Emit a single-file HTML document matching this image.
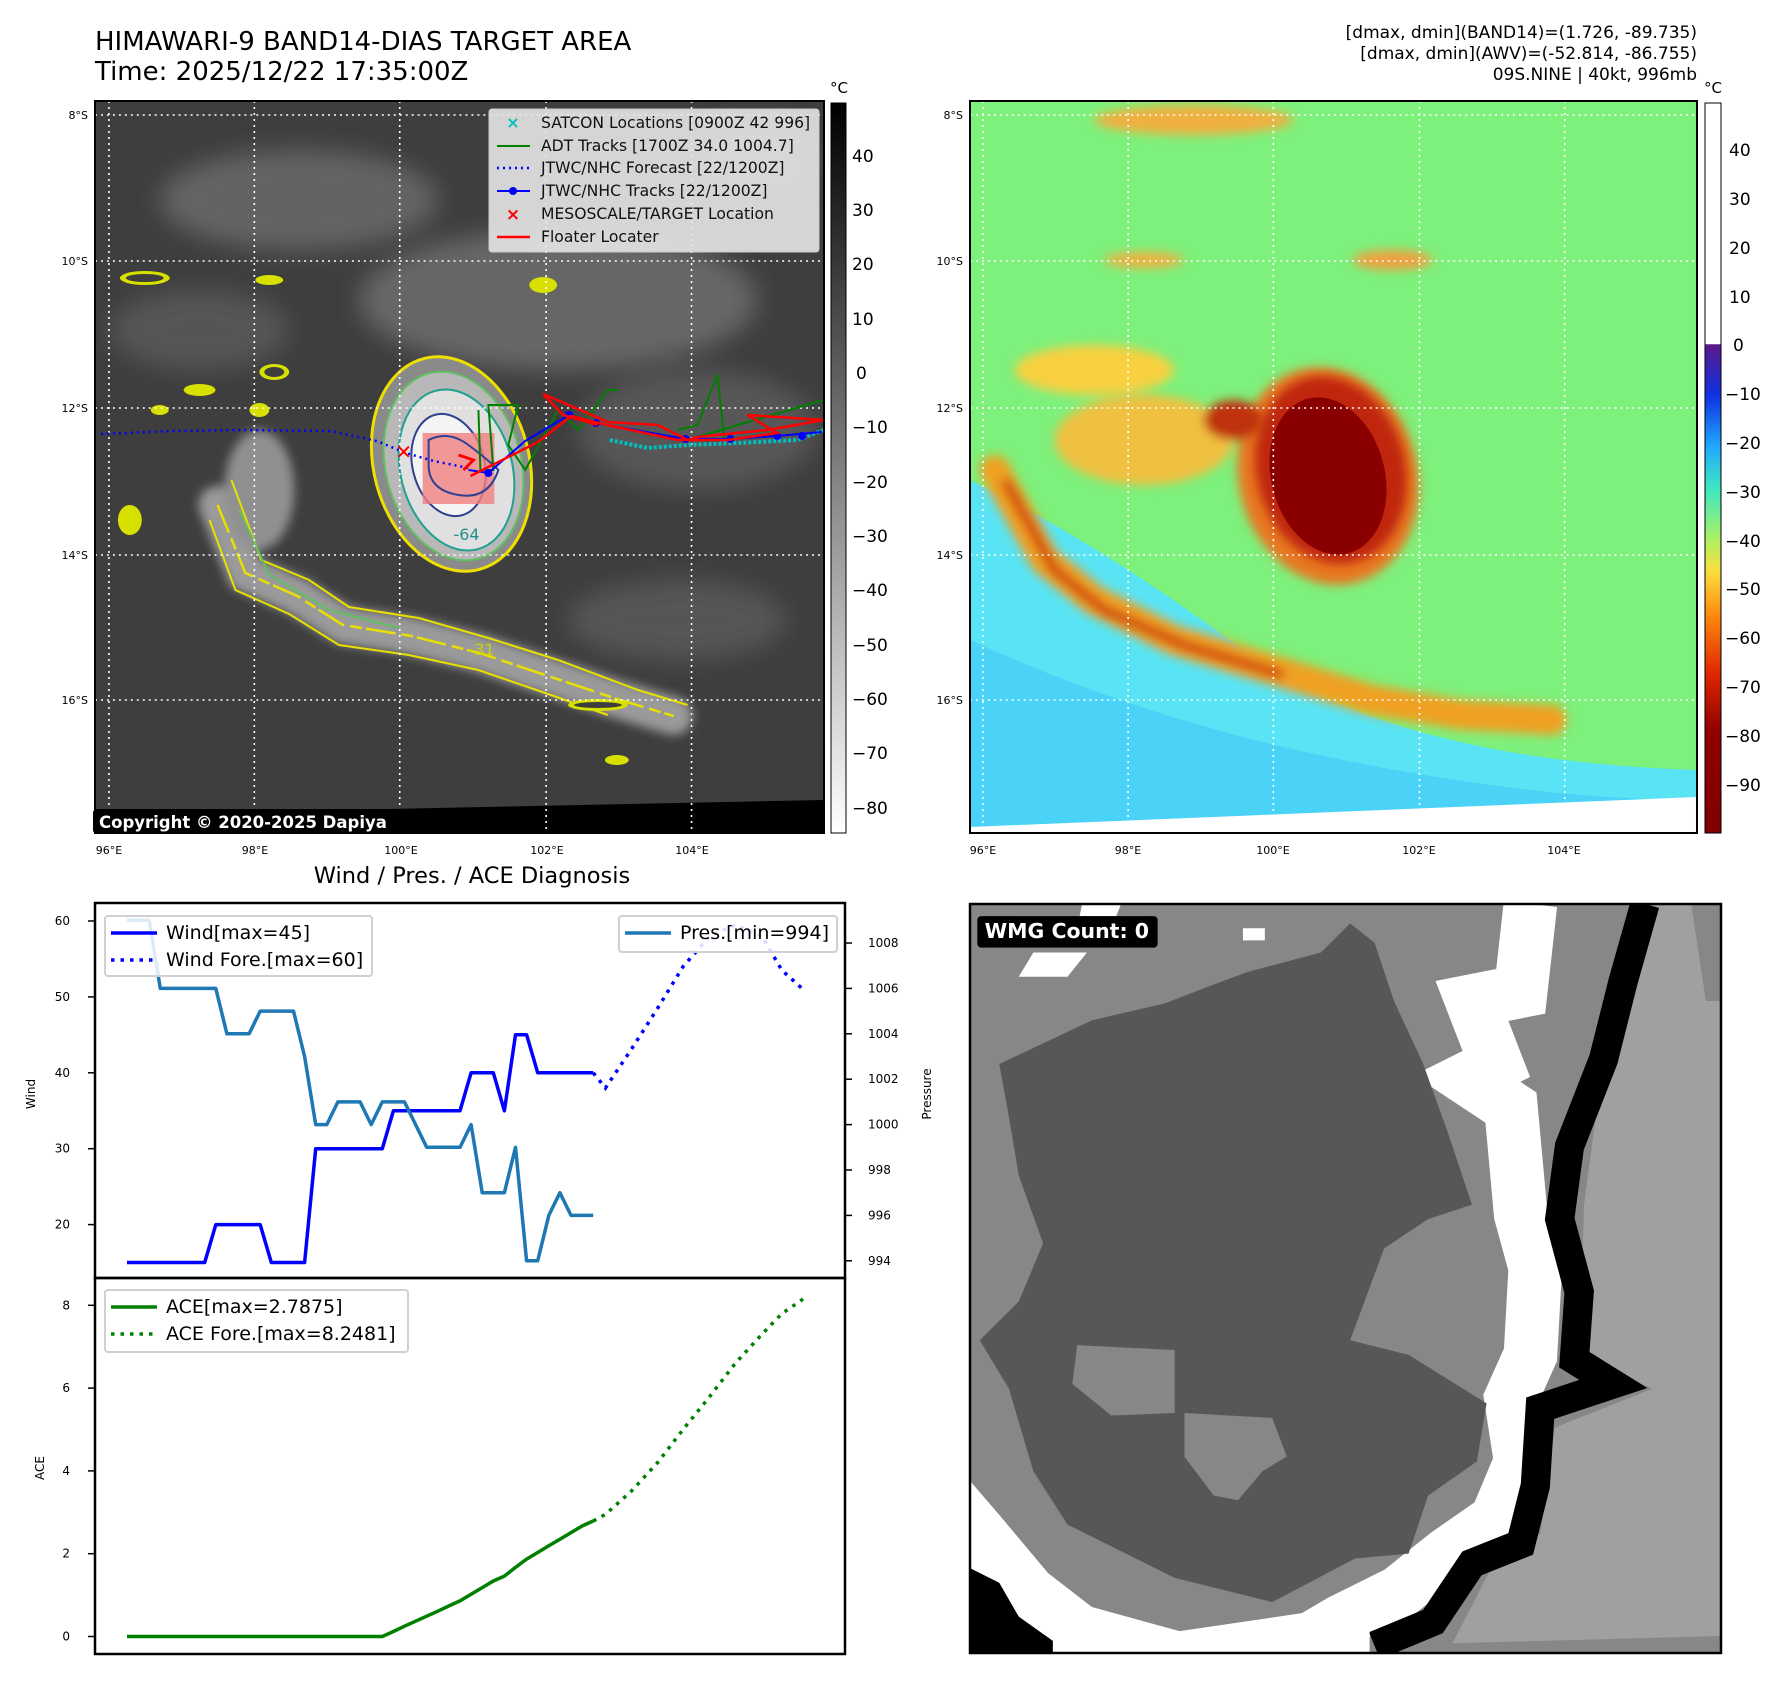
<!DOCTYPE html>
<html><head><meta charset="utf-8"><style>
html,body{margin:0;padding:0;background:#fff;}
svg{display:block;font-family:"DejaVu Sans","Liberation Sans",sans-serif;}
</style></head><body>
<svg id="root" width="1788" height="1690" viewBox="0 0 1788 1690" xmlns="http://www.w3.org/2000/svg">
<defs>
<clipPath id="cl"><rect x="95" y="101" width="732" height="732"/></clipPath>
<clipPath id="cr"><rect x="975" y="101" width="731" height="732"/></clipPath>
<filter id="bl" x="-50%" y="-50%" width="200%" height="200%"><feGaussianBlur stdDeviation="12"/></filter>
<filter id="bl2" x="-50%" y="-50%" width="200%" height="200%"><feGaussianBlur stdDeviation="5"/></filter>
<linearGradient id="cbl" x1="0" y1="0" x2="0" y2="1"><stop offset="0" stop-color="#000"/><stop offset="1" stop-color="#fff"/></linearGradient>
<linearGradient id="cbr" x1="0" y1="0" x2="0" y2="1">
<stop offset="0" stop-color="#fff"/><stop offset="0.33" stop-color="#fff"/><stop offset="0.331" stop-color="#5a1a8a"/>
<stop offset="0.4" stop-color="#1030e0"/><stop offset="0.47" stop-color="#20a8ff"/><stop offset="0.53" stop-color="#40e8c0"/>
<stop offset="0.6" stop-color="#b0f060"/><stop offset="0.64" stop-color="#f8e040"/><stop offset="0.7" stop-color="#ff8c10"/>
<stop offset="0.78" stop-color="#e02800"/><stop offset="0.86" stop-color="#900000"/><stop offset="1" stop-color="#800000"/></linearGradient>
</defs>

<text x="95" y="50" font-size="26">HIMAWARI-9 BAND14-DIAS TARGET AREA</text>
<text x="95" y="80" font-size="26">Time: 2025/12/22 17:35:00Z</text>
<g font-size="17" text-anchor="end">
<text x="1697" y="38">[dmax, dmin](BAND14)=(1.726, -89.735)</text>
<text x="1697" y="59">[dmax, dmin](AWV)=(-52.814, -86.755)</text>
<text x="1697" y="80">09S.NINE | 40kt, 996mb</text>
</g>

<!-- LEFT MAP -->
<g transform="translate(95,0) scale(0.9959,1) translate(-95,0)">
<g clip-path="url(#cl)">
<rect x="95" y="101" width="732" height="732" fill="#3e3e3e"/>
<g filter="url(#bl)" opacity="0.85">
<ellipse cx="300" cy="200" rx="140" ry="50" fill="#6a6a6a"/>
<ellipse cx="560" cy="300" rx="200" ry="70" fill="#6e6e6e"/>
<ellipse cx="200" cy="330" rx="90" ry="40" fill="#5a5a5a"/>
<ellipse cx="700" cy="430" rx="120" ry="60" fill="#5c5c5c"/>
<ellipse cx="680" cy="620" rx="110" ry="40" fill="#5a5a5a"/>
<ellipse cx="760" cy="160" rx="60" ry="40" fill="#5a5a5a"/>
</g>
<g filter="url(#bl2)">
<polyline points="218,505 246,573 298,596 344,625 413,636 481,653 550,676 619,699 676,716" fill="none" stroke="#9a9a9a" stroke-width="38" stroke-linecap="round"/>
<ellipse cx="260" cy="490" rx="35" ry="60" fill="#909090"/>
</g>
<polyline points="218,505 246,573 298,596 344,625 413,636 481,653 550,676 619,699 676,716" fill="none" stroke="#e8e000" stroke-width="2.5" stroke-dasharray="30 6 12 4"/>
<polyline points="232,480 262,560 310,580 350,607 420,618 490,638 560,660 640,690 690,705" fill="none" stroke="#e8e000" stroke-width="2"/>
<polyline points="210,520 236,590 290,614 340,645 410,655 480,670 550,694 610,715" fill="none" stroke="#e8e000" stroke-width="2"/>
<polyline points="240,510 270,575 330,610 400,628" fill="none" stroke="#5fc060" stroke-width="2"/>
<ellipse cx="453" cy="464" rx="78" ry="109" fill="#8a8a8a" stroke="#f0e000" stroke-width="3" transform="rotate(-15 453 464)"/>
<ellipse cx="455" cy="466" rx="68" ry="96" fill="#b8b8b8" stroke="#60c060" stroke-width="2" transform="rotate(-15 455 466)"/>
<ellipse cx="458" cy="470" rx="56" ry="82" fill="#e0e0e0" stroke="#20a090" stroke-width="2" transform="rotate(-15 458 470)"/>
<ellipse cx="450" cy="465" rx="36" ry="52" fill="#f4f4f4" stroke="#304090" stroke-width="2" transform="rotate(-15 450 465)"/>
<rect x="424" y="433" width="72" height="71" fill="#f08080" opacity="0.8"/>
<path d="M430 440 q20 -10 40 5 t30 25 q-10 30 -40 25 t-30 -30 z" fill="none" stroke="#304090" stroke-width="2"/>
<g fill="#d8e000">
<ellipse cx="145" cy="278" rx="25" ry="7"/><ellipse cx="270" cy="280" rx="14" ry="5"/><ellipse cx="200" cy="390" rx="16" ry="6"/><ellipse cx="160" cy="410" rx="9" ry="5"/><ellipse cx="260" cy="410" rx="10" ry="7"/><ellipse cx="275" cy="372" rx="15" ry="8"/><ellipse cx="545" cy="285" rx="14" ry="8"/><ellipse cx="619" cy="760" rx="12" ry="5"/><ellipse cx="600" cy="705" rx="30" ry="6"/><ellipse cx="130" cy="520" rx="12" ry="15"/>
</g>
<g fill="#3e3e3e"><ellipse cx="145" cy="278" rx="19" ry="4"/><ellipse cx="275" cy="372" rx="10" ry="5"/><ellipse cx="600" cy="705" rx="24" ry="3"/></g>
<polygon points="95,833 827,833 827,800 95,815" fill="#000"/>
<g stroke="#fff" stroke-width="1.6" stroke-dasharray="2 4">
<line x1="109" y1="101" x2="109" y2="833"/><line x1="255" y1="101" x2="255" y2="833"/><line x1="401" y1="101" x2="401" y2="833"/><line x1="548" y1="101" x2="548" y2="833"/><line x1="694" y1="101" x2="694" y2="833"/>
<line x1="95" y1="115" x2="827" y2="115"/><line x1="95" y1="261" x2="827" y2="261"/><line x1="95" y1="408" x2="827" y2="408"/><line x1="95" y1="555" x2="827" y2="555"/><line x1="95" y1="700" x2="827" y2="700"/>
</g>
<polyline points="101,434 172,431 241,430 332,431 378,441 407,453 435,461 470,468" fill="none" stroke="#0000ff" stroke-width="2.5" stroke-dasharray="2 4"/>
<g fill="none" stroke="#008000" stroke-width="2">
<polyline points="480,410 482,470 495,470 490,405 520,405 510,445 527,470 560,410 580,430 610,390 620,390"/>
<polyline points="680,430 700,425 720,375 727,440 690,440 740,425 827,400"/>
</g>
<polyline points="612,440 650,448 690,445 740,443 800,440 827,430" fill="none" stroke="#00c0c0" stroke-width="4" stroke-dasharray="3 2"/>
<polyline points="470,470 490,473 527,441 571,415 598,423 688,439 733,439 780,436 825,432" fill="none" stroke="#0000ff" stroke-width="2"/>
<g fill="#0000ff"><circle cx="490" cy="473" r="4"/><circle cx="571" cy="415" r="4"/><circle cx="598" cy="423" r="4"/><circle cx="688" cy="439" r="4"/><circle cx="733" cy="439" r="4"/><circle cx="780" cy="436" r="4"/><circle cx="805" cy="436" r="4"/></g>
<polyline points="472,476 540,442 573,416 605,424 680,440 730,440 780,433 750,415 827,420 770,430 700,437 690,440 660,425 610,422 545,394 565,415 600,425" fill="none" stroke="#ff0000" stroke-width="2.5"/>
<polyline points="465,470 475,460 460,455" fill="none" stroke="#ff0000" stroke-width="3"/>
<text x="405" y="459" font-size="20" font-weight="bold" fill="#ff0000" text-anchor="middle">✕</text>
<text x="455" y="540" font-size="16" fill="#209090">-64</text>
<text x="470" y="655" font-size="16" fill="#d0d000">-31</text>
</g>
<rect x="95" y="101" width="732" height="732" fill="none" stroke="#000" stroke-width="2"/>
</g>
<rect x="93" y="809" width="314" height="25" rx="4" fill="#000"/>
<text x="99" y="828" font-size="16.5" font-weight="bold" fill="#fff">Copyright © 2020-2025 Dapiya</text>
<g>
<rect x="489" y="109" width="330" height="143" rx="3" fill="#e6e6e6" fill-opacity="0.9" stroke="#ccc"/>
<g font-size="15.6" fill="#111">
<text x="513" y="128" font-size="16" fill="#00c0c0" text-anchor="middle" font-weight="bold">×</text><text x="541" y="128">SATCON Locations [0900Z 42 996]</text>
<line x1="497" y1="146" x2="530" y2="146" stroke="#008000" stroke-width="2"/><text x="541" y="151">ADT Tracks [1700Z 34.0 1004.7]</text>
<line x1="497" y1="168" x2="530" y2="168" stroke="#0000ff" stroke-width="2.5" stroke-dasharray="2 4"/><text x="541" y="173">JTWC/NHC Forecast [22/1200Z]</text>
<line x1="497" y1="191" x2="530" y2="191" stroke="#0000ff" stroke-width="2"/><circle cx="513" cy="191" r="4" fill="#0000ff"/><text x="541" y="196">JTWC/NHC Tracks [22/1200Z]</text>
<text x="513" y="220" font-size="17" fill="#ff0000" text-anchor="middle" font-weight="bold">×</text><text x="541" y="219">MESOSCALE/TARGET Location</text>
<line x1="497" y1="237" x2="530" y2="237" stroke="#ff0000" stroke-width="2.5"/><text x="541" y="242">Floater Locater</text>
</g></g>
<g font-size="11" fill="#000" text-anchor="end">
<text x="88" y="119">8°S</text><text x="88" y="265">10°S</text><text x="88" y="412">12°S</text><text x="88" y="559">14°S</text><text x="88" y="704">16°S</text></g>
<g font-size="11" fill="#000" text-anchor="middle">
<text x="109" y="854">96°E</text><text x="255" y="854">98°E</text><text x="401" y="854">100°E</text><text x="547" y="854">102°E</text><text x="692" y="854">104°E</text></g>
<g>
<rect x="831" y="103" width="15" height="730" fill="url(#cbl)" stroke="#000" stroke-width="1"/>
<text x="839" y="93" font-size="15" text-anchor="middle">°C</text>
<g font-size="17" text-anchor="start">
<text x="852" y="162">40</text><text x="852" y="216">30</text><text x="852" y="270">20</text><text x="852" y="325">10</text><text x="856" y="379">0</text><text x="852" y="433">−10</text><text x="852" y="488">−20</text><text x="852" y="542">−30</text><text x="852" y="596">−40</text><text x="852" y="651">−50</text><text x="852" y="705">−60</text><text x="852" y="759">−70</text><text x="852" y="814">−80</text>
</g></g>

<!-- RIGHT MAP -->
<g transform="translate(970,0) scale(0.9945,1) translate(-975,0)">
<g clip-path="url(#cr)">
<rect x="975" y="101" width="731" height="732" fill="#7ef07c"/>
<path d="M975 480 Q1100 540 1250 650 T1706 770 L1706 833 L975 833 Z" fill="#58e4f4"/>
<path d="M975 640 Q1150 720 1350 760 T1706 800 L1706 833 L975 833 Z" fill="#48cdf8" opacity="0.8"/>
<g filter="url(#bl2)">
<polyline points="1000,470 1050,560 1100,600 1180,640 1280,670 1380,700 1470,715 1560,720" fill="none" stroke="#f0a020" stroke-width="30" stroke-linecap="round"/>
<polyline points="1010,480 1060,570 1110,610 1190,645 1290,675" fill="none" stroke="#d04010" stroke-width="10"/>
<ellipse cx="1335" cy="476" rx="90" ry="110" fill="#e87820" transform="rotate(-15 1335 476)"/>
<ellipse cx="1150" cy="440" rx="90" ry="45" fill="#f0c040"/>
<ellipse cx="1240" cy="420" rx="30" ry="20" fill="#c03010"/>
<ellipse cx="1100" cy="370" rx="80" ry="25" fill="#f8d040"/>
<ellipse cx="1200" cy="120" rx="100" ry="15" fill="#f0b040"/>
<ellipse cx="1400" cy="260" rx="40" ry="10" fill="#f0a040"/>
<ellipse cx="1150" cy="260" rx="40" ry="8" fill="#f0b040"/>
</g>
<ellipse cx="1338" cy="470" rx="75" ry="95" fill="#c02808" filter="url(#bl2)" transform="rotate(-15 1338 470)"/>
<ellipse cx="1335" cy="476" rx="57" ry="80" fill="#8a0000" transform="rotate(-15 1335 476)"/>
<polygon points="975,833 1706,833 1706,797 975,827" fill="#fff"/>
<g stroke="#fff" stroke-width="1.6" stroke-dasharray="2 4">
<line x1="988" y1="101" x2="988" y2="833"/><line x1="1134" y1="101" x2="1134" y2="833"/><line x1="1280" y1="101" x2="1280" y2="833"/><line x1="1427" y1="101" x2="1427" y2="833"/><line x1="1573" y1="101" x2="1573" y2="833"/>
<line x1="975" y1="115" x2="1706" y2="115"/><line x1="975" y1="261" x2="1706" y2="261"/><line x1="975" y1="408" x2="1706" y2="408"/><line x1="975" y1="555" x2="1706" y2="555"/><line x1="975" y1="700" x2="1706" y2="700"/>
</g>
</g>
<rect x="975" y="101" width="731" height="732" fill="none" stroke="#000" stroke-width="2"/>
</g>
<g font-size="11" fill="#000" text-anchor="end">
<text x="963" y="119">8°S</text><text x="963" y="265">10°S</text><text x="963" y="412">12°S</text><text x="963" y="559">14°S</text><text x="963" y="704">16°S</text></g>
<g font-size="11" fill="#000" text-anchor="middle">
<text x="983" y="854">96°E</text><text x="1128" y="854">98°E</text><text x="1273" y="854">100°E</text><text x="1419" y="854">102°E</text><text x="1564" y="854">104°E</text></g>
<g>
<rect x="1705" y="103" width="16" height="730" fill="url(#cbr)" stroke="#000" stroke-width="1"/>
<text x="1713" y="93" font-size="15" text-anchor="middle">°C</text>
<g font-size="17">
<text x="1729" y="156">40</text><text x="1729" y="205">30</text><text x="1729" y="254">20</text><text x="1729" y="303">10</text><text x="1733" y="351">0</text><text x="1725" y="400">−10</text><text x="1725" y="449">−20</text><text x="1725" y="498">−30</text><text x="1725" y="547">−40</text><text x="1725" y="595">−50</text><text x="1725" y="644">−60</text><text x="1725" y="693">−70</text><text x="1725" y="742">−80</text><text x="1725" y="791">−90</text>
</g></g>

<!-- BOTTOM RIGHT WMG -->
<svg x="970" y="904" width="751" height="749" viewBox="0 0 1541 1545" preserveAspectRatio="none">
<rect x="0" y="0" width="1541" height="1545" fill="#878787"/>
<polygon points="1400,0 1541,0 1541,1510 990,1525 1080,1350 1170,1300 1200,1080 1400,1000 1250,930 1260,620 1300,320 1330,150" fill="#a0a0a0"/>
<polygon points="1480,0 1541,0 1541,200 1510,200" fill="#878787"/>
<polyline points="1150,0 1130,180 1030,200 1080,330 1020,360 1110,420 1130,640 1160,750 1150,930 1110,1020 1130,1150 1080,1270 980,1340 880,1420 760,1480 650,1545" fill="none" stroke="#fff" stroke-width="110"/>
<polyline points="1385,0 1340,160 1300,320 1230,500 1210,650 1250,800 1240,940 1320,990 1170,1040 1160,1200 1130,1320 1030,1360 950,1480 830,1530" fill="none" stroke="#000" stroke-width="60"/>
<polygon points="60,330 250,240 400,205 490,170 570,140 720,100 780,40 830,80 870,200 930,330 980,470 1030,620 940,650 850,710 780,900 900,930 1060,1030 1040,1150 940,1220 900,1340 790,1350 620,1440 420,1390 200,1280 130,1170 80,1000 20,900 100,820 150,700 100,560 80,440" fill="#575757"/>
<polygon points="220,910 420,920 420,1050 290,1055 210,990" fill="#878787"/>
<polygon points="440,1050 620,1060 650,1140 600,1170 550,1230 500,1220 440,1140" fill="#878787"/>
<polygon points="0,1190 60,1260 160,1380 250,1450 430,1500 700,1460 820,1500 820,1545 0,1545" fill="#fff"/>
<polygon points="0,1370 60,1400 100,1470 170,1520 170,1545 0,1545" fill="#000"/>
<rect x="560" y="50" width="45" height="25" fill="#fff"/>
<polygon points="100,150 200,150 240,100 130,100" fill="#fff"/>
<polygon points="230,0 310,0 300,25 225,25" fill="#fff"/>
<rect x="15" y="25" width="370" height="65" rx="8" fill="#000"/>
<text x="30" y="70" font-size="42" font-weight="bold" fill="#fff">WMG Count: 0</text>
</svg>
<rect x="970" y="904" width="751" height="749" fill="none" stroke="#000" stroke-width="2.5"/>

<text x="472" y="883" font-size="22.5" text-anchor="middle">Wind / Pres. / ACE Diagnosis</text>
<g id="chart"></g>
</svg>
<script>
var windObs = [15,15,15,15,15,15,15,15,20,20,20,20,20,15,15,15,15,30,30,30,30,30,30,30,35,35,35,35,35,35,35,40,40,40,35,45,45,40,40,40,40,40,40];
var presObs = [1009,1009,1009,1006,1006,1006,1006,1006,1006,1004,1004,1004,1005,1005,1005,1005,1003,1000,1000,1001,1001,1001,1000,1001,1001,1001,1000,999,999,999,999,1000,997,997,997,999,994,994,996,997,996,996,996];
var aceObs = [0,0,0,0,0,0,0,0,0,0,0,0,0,0,0,0,0,0,0,0,0,0,0,0,0.12,0.25,0.37,0.49,0.61,0.74,0.86,1.02,1.18,1.34,1.46,1.67,1.87,2.03,2.19,2.35,2.51,2.67,2.79];
var foreIdx = [42,43.1,45.4,47.8,50.1,52.5,54.8,57.2,59.0,60.9];
var windFore = [40,38,43,48.5,54,58,59.5,58,53.5,51];
var aceFore = [2.79,2.95,3.5,4.2,5.0,5.8,6.6,7.3,7.8,8.15];
var windTicks = [20,30,40,50,60];
var presTicks = [994,996,998,1000,1002,1004,1006,1008];
var aceTicks = [0,2,4,6,8];

var NS = 'http://www.w3.org/2000/svg';
var g = document.getElementById('chart');
function xS(i){ return 127 + i*11.10; }
function yW(w){ return 921 + (60-w)*7.59; }
function yP(p){ return 943 + (1008-p)*22.7; }
function yA(a){ return 1636.5 - a*41.4; }
function mk(tag, attrs){ var e=document.createElementNS(NS,tag); for(var k in attrs) e.setAttribute(k, attrs[k]); g.appendChild(e); return e; }
function pts(idx, vals, f){ return vals.map(function(v,i){ return xS(idx?idx[i]:i).toFixed(1)+','+f(v).toFixed(1); }).join(' '); }

var f1 = mk('rect',{x:95,y:903,width:750,height:375,fill:'none',stroke:'#000','stroke-width':2.5});


var f2 = mk('rect',{x:95,y:1278,width:750,height:376,fill:'none',stroke:'#000','stroke-width':2.5});



windTicks.forEach(function(t){
  var l = mk('line',{x1:88,x2:95,y1:yW(t),y2:yW(t),stroke:'#000','stroke-width':1.5});
  
  
  var tx = mk('text',{x:70,y:yW(t)+4,'font-size':12,'text-anchor':'end'}); tx.textContent = t;
  
  
});
presTicks.forEach(function(t){
  var l = mk('line',{x1:845,x2:852,y1:yP(t),y2:yP(t),stroke:'#000','stroke-width':1.5});
  
  
  var tx = mk('text',{x:868,y:yP(t)+4,'font-size':12}); tx.textContent = t;
  
  
});
aceTicks.forEach(function(t){
  var l = mk('line',{x1:88,x2:95,y1:yA(t),y2:yA(t),stroke:'#000','stroke-width':1.5});
  
  
  var tx = mk('text',{x:70,y:yA(t)+4,'font-size':12,'text-anchor':'end'}); tx.textContent = t;
  
  
});
var yl1 = mk('text',{x:35,y:1094,'font-size':12,'text-anchor':'middle',transform:'rotate(-90 35 1094)'}); yl1.textContent='Wind';


var yl2 = mk('text',{x:931,y:1094,'font-size':12,'text-anchor':'middle',transform:'rotate(-90 931 1094)'}); yl2.textContent='Pressure';


var yl3 = mk('text',{x:44,y:1468,'font-size':12,'text-anchor':'middle',transform:'rotate(-90 44 1468)'}); yl3.textContent='ACE';



var wl = mk('polyline',{points:pts(null,windObs,yW),fill:'none',stroke:'#0000ff','stroke-width':3.5,'stroke-linejoin':'round'});


var wf = mk('polyline',{points:pts(foreIdx,windFore,yW),fill:'none',stroke:'#0000ff','stroke-width':3.5,'stroke-dasharray':'3.5 6'});


var pl = mk('polyline',{points:pts(null,presObs,yP),fill:'none',stroke:'#1f77b4','stroke-width':3.5,'stroke-linejoin':'round'});


var al = mk('polyline',{points:pts(null,aceObs,yA),fill:'none',stroke:'#008000','stroke-width':3.5,'stroke-linejoin':'round'});


var af = mk('polyline',{points:pts(foreIdx,aceFore,yA),fill:'none',stroke:'#008000','stroke-width':3.5,'stroke-dasharray':'3.5 6'});



function legend(name, x, y, w, h, items){
  var box = mk('rect',{x:x,y:y,width:w,height:h,rx:3,fill:'#fff','fill-opacity':0.85,stroke:'#d0d0d0','stroke-width':2});
  
  
  items.forEach(function(it, k){
    var yy = y+17+k*27;
    var ln = mk('line',{x1:x+6,x2:x+52,y1:yy,y2:yy,stroke:it[1],'stroke-width':3.5});
    if(it[2]) ln.setAttribute('stroke-dasharray','3.5 6');
    
    
    var tx = mk('text',{x:x+61,y:yy+6,'font-size':19}); tx.textContent = it[0];
    
    
  });
}
legend('wind-legend',105,916,267,60,[['Wind[max=45]','#0000ff',0],['Wind Fore.[max=60]','#0000ff',1]]);
legend('pressure-legend',619,916,218,36,[['Pres.[min=994]','#1f77b4',0]]);
legend('ace-legend',105,1290,303,62,[['ACE[max=2.7875]','#008000',0],['ACE Fore.[max=8.2481]','#008000',1]]);
</script>
</body></html>
